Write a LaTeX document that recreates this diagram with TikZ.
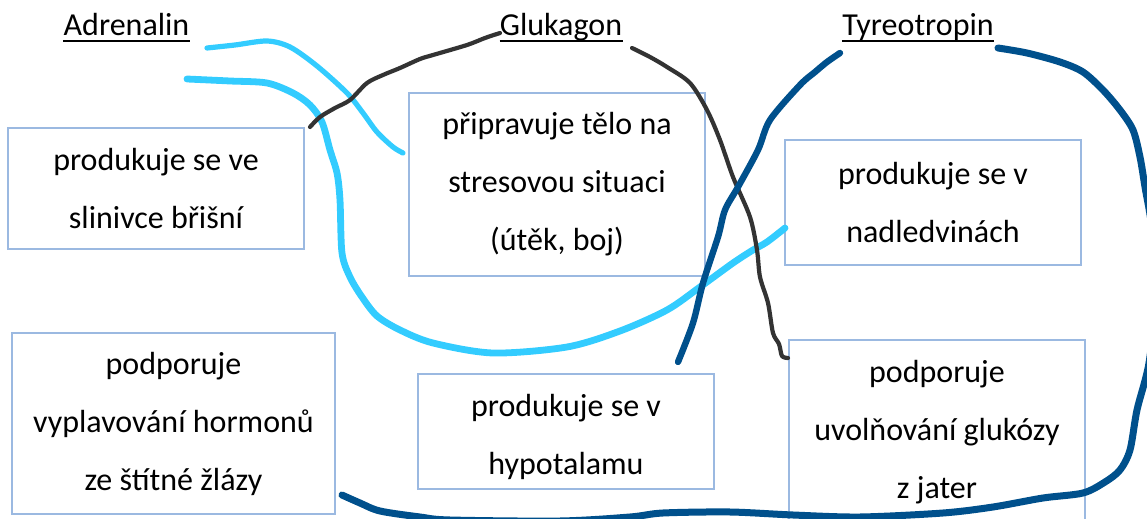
\documentclass[tikz,border=0pt]{standalone}
\usepackage{fontspec}
\setmainfont{Carlito}
\definecolor{lblue}{RGB}{51,204,255}
\definecolor{dblue}{RGB}{0,80,140}
\definecolor{dgray}{RGB}{51,51,51}
\definecolor{boxc}{RGB}{155,185,225}
\tikzset{
  infobox/.style={draw=boxc, line width=1pt, align=center, inner sep=0pt,
    font=\fontsize{16}{29}\selectfont},
  title/.style={inner sep=0pt, anchor=base, font=\fontsize{16}{19}\selectfont},
  uline/.style={line width=1.2pt, black},
  stroke/.style={line cap=round, line join=round},
  lbthin/.style={stroke, draw=lblue, line width=2.6pt},
  lbthick/.style={stroke, draw=lblue, line width=3.4pt},
  grayline/.style={stroke, draw=dgray, line width=2.1pt},
  dbline/.style={stroke, draw=dblue, line width=3.2pt},
}
\begin{document}
\begin{tikzpicture}[x=0.5pt,y=-0.5pt]
\useasboundingbox (0,0) rectangle (1147,519);

% titles
\node[title] (tA) at (126.5,36) {Adrenalin};
\node[title] (tG) at (561,36) {Glukagon};
\node[title] (tT) at (918,36) {Tyreotropin};
\foreach \t in {tA,tG,tT}
  \draw[uline] ([yshift=-2.6pt]\t.base west) -- ([yshift=-2.6pt]\t.base east);

% boxes
\node[infobox, minimum width=148pt, minimum height=60.5pt] (b1) at (156,188.5)
  {produkuje se ve\\slinivce břišní};
\node[infobox, minimum width=148pt, minimum height=91.5pt] (b2) at (557,184.5)
  {připravuje tělo na\\stresovou situaci\\(útěk, boj)};
\node[infobox, minimum width=148pt, minimum height=62.5pt] (b3) at (933,202.5)
  {produkuje se v\\nadledvinách};
\node[infobox, minimum width=161.5pt, minimum height=90.5pt] (b4) at (173.5,423.5)
  {podporuje\\vyplavování hormonů\\ze štítné žlázy};
\node[infobox, minimum width=148pt, minimum height=57.5pt] (b5) at (566,431.5)
  {\rule{0pt}{17pt}produkuje se v\\hypotalamu};
\node[infobox, minimum width=148pt, minimum height=92.5pt] (b6) at (937,432.5)
  {podporuje\\uvolňování glukózy\\z jater};

% end points of the strokes
\coordinate (a1s) at (207,48);   \coordinate (a1e) at (403,153);
\coordinate (a2s) at (187,79);   \coordinate (a2e) at (785,228);
\coordinate (g1s) at (310,127);  \coordinate (g1e) at (500,33);
\coordinate (g2s) at (632,48);   \coordinate (g2e) at (788,358);
\coordinate (t1s) at (840,53);   \coordinate (t1e) at (678,362);
\coordinate (t2s) at (998,48);   \coordinate (t2e) at (342,495);

% Adrenalin strokes
\draw[lbthin] plot[smooth, tension=0.5] coordinates {(a1s) (235,45) (267,41) (290,47)
  (317,66) (347,93) (363,113) (377,132) (393,147) (a1e)};
\draw[lbthick] plot[smooth, tension=0.5] coordinates {(a2s) (230,81) (267,83) (293,93)
  (310,105) (322,122) (330,150) (337,173) (340,200) (342,253) (350,277) (362,297)
  (377,316) (400,330) (433,343) (493,353) (567,347) (620,331) (667,310) (700,287)
  (733,263) (753,250) (767,242) (a2e)};

% Glukagon strokes
\draw[grayline] plot[smooth, tension=0.5] coordinates {(g1s) (320,117) (335,108)
  (350,100) (367,83) (383,75) (400,68) (420,59) (433,55) (467,45) (485,38) (g1e)};
\draw[grayline] plot[smooth, tension=0.5] coordinates {(g2s) (650,57) (667,67) (690,83)
  (707,110) (720,140) (733,177) (750,217) (757,250) (760,277) (768,303) (773,333)
  (779,344) (782,356) (g2e)};

% Tyreotropin strokes
\draw[dbline] plot[smooth, tension=0.5] coordinates {(t1s) (827,62) (815,72) (800,85)
  (770,120) (758,150) (738,187) (725,210) (718,237) (703,283) (693,323) (t1e)};
\draw[dbline, line width=3.5pt] plot[smooth, tension=0.5] coordinates {(t2s) (1027,53)
  (1060,62) (1083,72) (1103,90) (1120,110) (1133,130) (1140,157) (1145,187)
  (1152,230) (1155,300) (1149,363) (1137,410) (1130,450) (1120,470) (1105,482)
  (1083,493) (1043,498) (993,507) (943,513) (860,517) (793,515) (730,512)
  (663,513) (630,517) (560,521) (450,520) (420,517) (380,511) (360,503) (t2e)};
\end{tikzpicture}
\end{document}
